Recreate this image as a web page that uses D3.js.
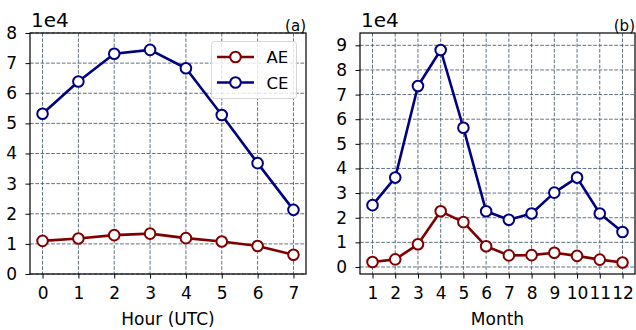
<!DOCTYPE html>
<html>
<head>
<meta charset="utf-8">
<script src="https://cdn.jsdelivr.net/npm/d3@7"></script>
<style>
  body { margin: 0; background: #fff; }
  svg { font-family: "DejaVu Sans", sans-serif; }
</style>
</head>
<body>
<svg id="chart" width="636" height="330"></svg>
<script>
// data (values in units of 1e4)
var hours = [0, 1, 2, 3, 4, 5, 6, 7];
var hourAE = [1.10, 1.18, 1.29, 1.34, 1.19, 1.08, 0.93, 0.64];
var hourCE = [5.32, 6.39, 7.31, 7.44, 6.83, 5.28, 3.68, 2.13];

var months = [1, 2, 3, 4, 5, 6, 7, 8, 9, 10, 11, 12];
var monthAE = [0.20, 0.31, 0.92, 2.26, 1.82, 0.84, 0.47, 0.48, 0.58, 0.45, 0.30, 0.18];
var monthCE = [2.51, 3.63, 7.35, 8.81, 5.65, 2.26, 1.92, 2.17, 3.02, 3.63, 2.17, 1.42];

var hourTicks = [0, 1, 2, 3, 4, 5, 6, 7, 8];
var monthTicks = [0, 1, 2, 3, 4, 5, 6, 7, 8, 9];

var seriesNames = ["AE", "CE"];
var colors = { AE: "#800000", CE: "#000080" };

var svg = d3.select("#chart");

function styleAxis(a) {
	a.select(".domain").remove();
	a.selectAll("line").attr("stroke", "#000").attr("stroke-width", 1);
	a.selectAll("text").attr("fill", "#000").style("font-size", "17px").attr("font-family", "DejaVu Sans");
}

function drawPanel(opt) {
	var x = d3.scaleLinear().domain(opt.xDomain).range([opt.left, opt.right]);
	var y = d3.scaleLinear().domain(opt.yDomain).range([opt.bottom, opt.top]);

	var g = svg.append("g");

	// grid
	g.append("g").selectAll("line").data(opt.xs).enter().append("line")
		.attr("x1", function (d) { return x(d); }).attr("x2", function (d) { return x(d); })
		.attr("y1", opt.top).attr("y2", opt.bottom)
		.attr("stroke", "#4f6272").attr("stroke-width", 0.9)
		.attr("stroke-dasharray", "3.7,1.6");
	g.append("g").selectAll("line").data(opt.yTicks).enter().append("line")
		.attr("x1", opt.left).attr("x2", opt.right)
		.attr("y1", function (d) { return y(d); }).attr("y2", function (d) { return y(d); })
		.attr("stroke", "#4f6272").attr("stroke-width", 0.9)
		.attr("stroke-dasharray", "3.7,1.6");

	// axes
	var xAxis = d3.axisBottom(x).tickValues(opt.xs).tickSize(4.5).tickPadding(8).tickFormat(d3.format("d"));
	var yAxis = d3.axisLeft(y).tickValues(opt.yTicks).tickSize(4.5).tickPadding(8.5).tickFormat(d3.format("d"));

	g.append("g")
		.attr("transform", "translate(0," + opt.bottom + ")")
		.call(xAxis)
		.call(styleAxis);

	g.append("g")
		.attr("transform", "translate(" + opt.left + ",0)")
		.call(yAxis)
		.call(styleAxis);

	// lines and markers
	opt.series.forEach(function (s) {
		var pts = opt.xs.map(function (d, i) { return [d, s.values[i]]; });
		var line = d3.line().x(function (d) { return x(d[0]); }).y(function (d) { return y(d[1]); });
		g.append("path").datum(pts)
			.attr("d", line)
			.attr("fill", "none")
			.attr("stroke", colors[s.name])
			.attr("stroke-width", 2.6)
			.attr("stroke-linejoin", "round");
		g.append("g").selectAll("circle").data(pts).enter().append("circle")
			.attr("cx", function (d) { return x(d[0]); })
			.attr("cy", function (d) { return y(d[1]); })
			.attr("r", 5.3)
			.attr("fill", "#fff")
			.attr("stroke", colors[s.name])
			.attr("stroke-width", 2);
	});

	// frame
	g.append("rect")
		.attr("x", opt.left).attr("y", opt.top)
		.attr("width", opt.right - opt.left).attr("height", opt.bottom - opt.top)
		.attr("fill", "none").attr("stroke", "#000").attr("stroke-width", 1.2);

	// offset text and panel label
	g.append("text").attr("x", opt.left + 1).attr("y", opt.top - 5.7)
		.style("font-size", "20px").text("1e4");
	g.append("text").attr("x", opt.right).attr("y", opt.top - 2)
		.attr("text-anchor", "end").style("font-size", "15px").text(opt.label);

	// x label
	g.append("text").attr("x", (opt.left + opt.right) / 2).attr("y", 325)
		.attr("text-anchor", "middle").style("font-size", "17px").text(opt.xLabel);

	return g;
}

var left = drawPanel({
	left: 30, right: 306, top: 33, bottom: 274,
	xDomain: [-0.35, 7.35], yDomain: [0, 8],
	xs: hours, yTicks: hourTicks,
	series: [{ name: "AE", values: hourAE }, { name: "CE", values: hourCE }],
	label: "(a)", xLabel: "Hour (UTC)"
});

drawPanel({
	left: 360, right: 635, top: 33, bottom: 274,
	xDomain: [0.45, 12.55], yDomain: [-0.285, 9.5],
	xs: months, yTicks: monthTicks,
	series: [{ name: "AE", values: monthAE }, { name: "CE", values: monthCE }],
	label: "(b)", xLabel: "Month"
});

// legend in panel (a)
var legend = left.append("g");
legend.append("rect")
	.attr("x", 211.5).attr("y", 41.5).attr("width", 85).attr("height", 57)
	.attr("rx", 3).attr("fill", "rgba(255,255,255,0.8)")
	.attr("stroke", "#d6d6d6").attr("stroke-width", 1);
seriesNames.forEach(function (name, i) {
	var yy = 57 + i * 25.5;
	legend.append("line").attr("x1", 217).attr("x2", 254).attr("y1", yy).attr("y2", yy)
		.attr("stroke", colors[name]).attr("stroke-width", 2.6);
	legend.append("circle").attr("cx", 235.5).attr("cy", yy).attr("r", 5.3)
		.attr("fill", "#fff").attr("stroke", colors[name]).attr("stroke-width", 2);
	legend.append("text").attr("x", 266.5).attr("y", yy + 6)
		.style("font-size", "16.5px").text(name);
});
</script>
</body>
</html>
